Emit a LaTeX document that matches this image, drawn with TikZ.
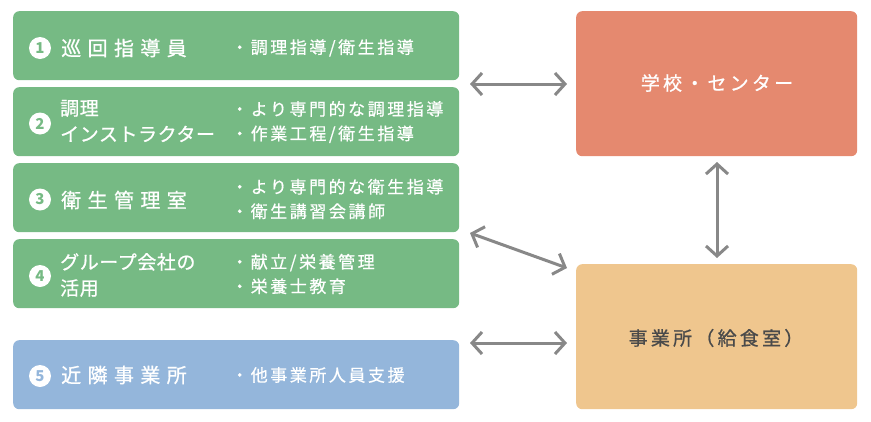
\documentclass[tikz,border=0pt]{standalone}
\usepackage{fontspec}
\usetikzlibrary{arrows.meta}
\newfontfamily\jpmain[LetterSpace=32,FakeBold=0.8]{Noto Sans CJK JP}
\newfontfamily\jpmaintight[LetterSpace=3,FakeBold=0.8]{Noto Sans CJK JP}
\newfontfamily\jpsub[LetterSpace=15,FakeBold=0.6]{Noto Sans CJK JP}
\newfontfamily\jpright[LetterSpace=17,FakeBold=0.8]{Noto Sans CJK JP}
\newfontfamily\jpnum{Noto Sans CJK JP}
\definecolor{boxgreen}{HTML}{76BA84}
\definecolor{boxred}{HTML}{E5896F}
\definecolor{boxorange}{HTML}{EFC68E}
\definecolor{boxblue}{HTML}{94B6DB}
\definecolor{arrowgray}{HTML}{888888}
\definecolor{darktext}{HTML}{4A4A4A}
\tikzset{
  panel/.style={anchor=north west, inner sep=0pt, rounded corners=6pt, draw=none},
  greenbox/.style={panel, fill=boxgreen, minimum width=446pt, minimum height=69pt},
  bluebox/.style={panel, fill=boxblue, minimum width=446pt, minimum height=69pt},
  rightbox/.style={panel, minimum width=281pt, minimum height=145pt},
  numdisc/.style={circle, fill=white, minimum size=22pt, inner sep=0pt, font=\jpnum\bfseries\fontsize{15}{15}\selectfont},
  mainlabel/.style={anchor=west, inner sep=0pt, text=white, font=\jpmain\fontsize{20}{20}\selectfont},
  mainlabeltwo/.style={anchor=west, inner sep=0pt, text=white, align=left, font=\jpmaintight\fontsize{19}{26}\selectfont},
  sublabel/.style={anchor=west, inner sep=0pt, text=white, align=left, font=\jpsub\fontsize{17}{24.5}\selectfont},
  biarrow/.style={draw=arrowgray, line width=3pt, {Straight Barb[length=10pt,width=22pt]}-{Straight Barb[length=10pt,width=22pt]}},
}
\begin{document}
\begin{tikzpicture}[x=1pt,y=-1pt]
\useasboundingbox (0,0) rectangle (871,421);
% left boxes
\node[greenbox] (b1) at (13,11) {};
\node[greenbox] (b2) at (13,87) {};
\node[greenbox] (b3) at (13,163) {};
\node[greenbox] (b4) at (13,239) {};
\node[bluebox]  (b5) at (13,340) {};
% right boxes
\node[rightbox, fill=boxred] (school) at (576,11) {};
\node[rightbox, fill=boxorange] (office) at (576,264) {};
% numbers
\node[numdisc, text=boxgreen] (n1) at (40,48) {1};
\node[numdisc, text=boxgreen] (n2) at (40,123.5) {2};
\node[numdisc, text=boxgreen] (n3) at (40,199.5) {3};
\node[numdisc, text=boxgreen] (n4) at (40,276) {4};
\node[numdisc, text=boxblue]  (n5) at (40,376) {5};
% main labels
\node[mainlabel] (m1) at (61,48) {巡回指導員};
\node[mainlabeltwo] (m2) at (60,121) {調理\\インストラクター};
\node[mainlabel] (m3) at (61,200) {衛生管理室};
\node[mainlabeltwo] (m4) at (60,275) {グループ会社の\\活用};
\node[mainlabel] (m5) at (61,375) {近隣事業所};
% sub labels
\node[sublabel] (s1) at (231,48) {・調理指導/衛生指導};
\node[sublabel] (s2) at (231,122) {・より専門的な調理指導\\・作業工程/衛生指導};
\node[sublabel] (s3) at (231,199) {・より専門的な衛生指導\\・衛生講習会講師};
\node[sublabel] (s4) at (231,274) {・献立/栄養管理\\・栄養士教育};
\node[sublabel] (s5) at (231,375) {・他事業所人員支援};
% right labels
\node[anchor=center, inner sep=0pt, text=white, font=\jpright\fontsize{19}{19}\selectfont] (t1) at (717,83) {学校・センター};
\node[anchor=center, inner sep=0pt, text=darktext, font=\jpright\fontsize{19}{19}\selectfont] (t2) at (716,338) {事業所（給食室）};
% arrow end points
\coordinate (a1l) at (470,84);
\coordinate (a1r) at (567,84);
\coordinate (a2l) at (470,233);
\coordinate (a2r) at (567,268);
\coordinate (a3l) at (470,343);
\coordinate (a3r) at (567,343);
\coordinate (a4t) at (717,162);
\coordinate (a4b) at (717,258);
\draw[biarrow] (a1l) -- (a1r);
\draw[biarrow] (a2l) -- (a2r);
\draw[biarrow] (a3l) -- (a3r);
\draw[biarrow] (a4t) -- (a4b);
\end{tikzpicture}
\end{document}
